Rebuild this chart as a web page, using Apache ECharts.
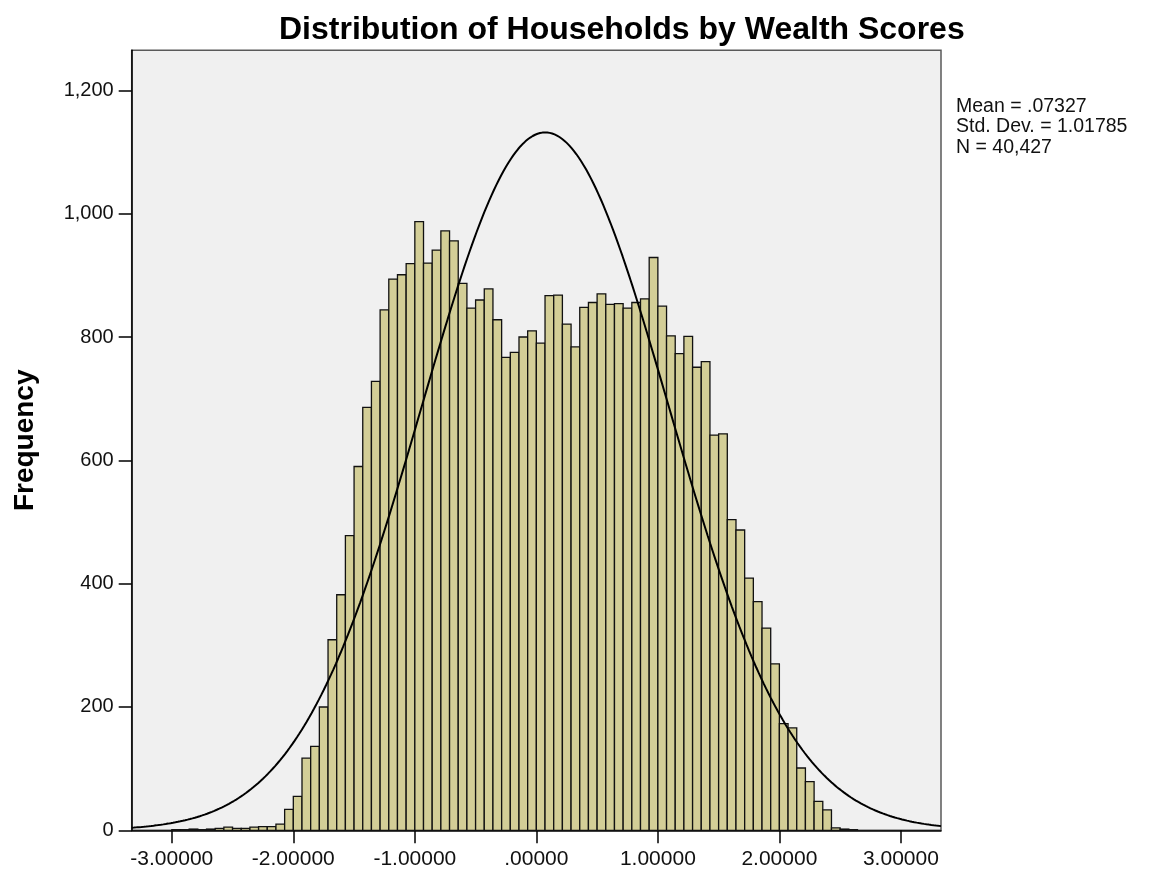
<!DOCTYPE html>
<html>
<head>
<meta charset="utf-8">
<title>Distribution of Households by Wealth Scores</title>
<script src="https://cdn.jsdelivr.net/npm/echarts@6/dist/echarts.min.js"></script>
<style>
  html, body { margin: 0; padding: 0; background: #fff; }
  #main { width: 1154px; height: 872px; }
</style>
</head>
<body>
<div id="main"></div>
<script>
// histogram bins: start at -3, width 1/14
var binStart = -3;
var binWidth = 1 / 14;
var counts = [
  1, 1, 2, 1, 2, 3, 5, 3, 3, 5, 6, 6, 10, 34,
  55, 117, 136, 200, 309, 382, 478, 590, 686, 728, 844, 894, 901, 919,
  987, 920, 941, 972, 956, 887, 847, 860, 878, 828, 767, 775, 800, 810,
  790, 867, 868, 821, 784, 848, 856, 870, 853, 854, 847, 856, 862, 929,
  850, 802, 773, 801, 751, 760, 641, 643, 504, 487, 409, 371, 328, 270,
  173, 166, 101, 79, 47, 33, 4, 2, 1
];
// summary stats shown at the right
var mean = 0.07327;
var stdDev = 1.01785;
var total = 40427;
// tick labels
var xTicks = [-3, -2, -1, 0, 1, 2, 3];
var yTicks = [0, 200, 400, 600, 800, 1000, 1200];

(function () {
  var myChart = echarts.init(document.getElementById("main"));
  var font = "'Liberation Sans', Arial, sans-serif";

  // bins -> [x0, x1, count]
  var bins = counts.map(function (c, i) {
    return [binStart + i * binWidth, binStart + (i + 1) * binWidth, c];
  });

  // fitted normal curve (SPSS overlay) from mean / sd / N
  var curve = [];
  for (var x = -3.33; x <= 3.3301; x += 0.02) {
    var z = (x - mean) / stdDev;
    var y = total * binWidth * Math.exp(-0.5 * z * z) / (stdDev * Math.sqrt(2 * Math.PI));
    curve.push([x, y]);
  }

  var option = {
    backgroundColor: "#fff",
    animation: false,
    title: {
      text: "Distribution of Households by Wealth Scores",
      left: 274,
      top: 9,
      textStyle: { fontFamily: font, fontSize: 32, fontWeight: "bold", color: "#000" }
    },
    grid: {
      left: 131.7,
      right: 213,
      top: 50.3,
      bottom: 41.7,
      show: true,
      backgroundColor: "#F0F0F0",
      borderColor: "#5a5a5a",
      borderWidth: 1.5,
      outerBoundsMode: "none"
    },
    xAxis: {
      type: "value",
      min: -3.33,
      max: 3.33,
      splitLine: { show: false },
      axisLine: { onZero: false, lineStyle: { color: "#000", width: 1.5 } },
      axisTick: { customValues: xTicks, length: 13, lineStyle: { color: "#000", width: 1.5 } },
      axisLabel: {
        customValues: xTicks,
        margin: 18,
        fontFamily: font,
        fontSize: 21,
        color: "#111",
        formatter: function (v) {
          var s = v.toFixed(5);
          return s.indexOf("0.") === 0 ? s.slice(1) : s;
        }
      }
    },
    yAxis: {
      type: "value",
      min: 0,
      max: 1265,
      name: "Frequency",
      nameLocation: "middle",
      nameRotate: 90,
      nameGap: 92,
      nameTextStyle: { fontFamily: font, fontSize: 28, fontWeight: "bold", color: "#000" },
      splitLine: { show: false },
      axisLine: { show: true, onZero: false, lineStyle: { color: "#000", width: 1.5 } },
      axisTick: { show: true, customValues: yTicks, length: 13, lineStyle: { color: "#000", width: 1.5 } },
      axisLabel: {
        customValues: yTicks,
        margin: 18,
        fontFamily: font,
        fontSize: 20,
        color: "#111",
        formatter: function (v) {
          return v.toLocaleString("en-US");
        }
      }
    },
    graphic: [
      {
        type: "text",
        left: 956,
        top: 96,
        style: {
          text: "Mean = .07327\nStd. Dev. = 1.01785\nN = 40,427",
          font: "19.5px " + font,
          lineHeight: 20.5,
          fill: "#111"
        }
      }
    ],
    series: [
      {
        type: "custom",
        data: bins,
        encode: { x: [0, 1], y: 2 },
        renderItem: function (params, api) {
          var p0 = api.coord([api.value(0), api.value(2)]);
          var p1 = api.coord([api.value(1), 0]);
          return {
            type: "rect",
            shape: { x: p0[0], y: p0[1], width: p1[0] - p0[0], height: p1[1] - p0[1] },
            style: { fill: "#D3CE97", stroke: "#111", lineWidth: 1.3 }
          };
        },
        z: 2
      },
      {
        type: "line",
        data: curve,
        showSymbol: false,
        smooth: false,
        lineStyle: { color: "#000", width: 2 },
        z: 3
      }
    ]
  };

  myChart.setOption(option);
  window.addEventListener("resize", function () {
    myChart.resize();
  });
})();
</script>
</body>
</html>
